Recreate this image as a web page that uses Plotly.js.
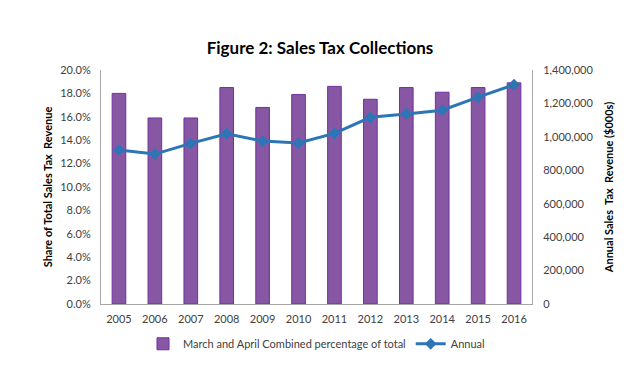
<!DOCTYPE html>
<html><head><meta charset="utf-8">
<script src="https://cdn.plot.ly/plotly-3.0.1.min.js"></script>
<style>html,body{margin:0;padding:0;background:#fff}#c{width:640px;height:383px}</style>
</head><body><div id="c"></div>
<script>
const years = ['2005','2006','2007','2008','2009','2010','2011','2012','2013','2014','2015','2016'];
const sharePct = [0.180,0.159,0.159,0.185,0.168,0.179,0.186,0.175,0.185,0.181,0.185,0.189];
const annual = [921000,897000,961000,1019000,975000,963000,1021000,1117000,1137000,1159000,1238000,1312000];
const leftTicks = [0,0.02,0.04,0.06,0.08,0.10,0.12,0.14,0.16,0.18,0.20];
const rightTicks = [0,200000,400000,600000,800000,1000000,1200000,1400000];

const fontFam = 'Lato, "Open Sans", sans-serif';
const data = [
  {type:'bar', x:years, y:sharePct, name:'March and April Combined percentage of total',
   marker:{color:'#8757A3', line:{color:'#7030A0', width:1}}, width:0.38, yaxis:'y'},
  {type:'scatter', mode:'lines+markers', x:years, y:annual, name:'Annual', yaxis:'y2',
   line:{color:'#2E75B6', width:3}, marker:{symbol:'diamond', size:9, color:'#2E75B6'}}
];
const layout = {
  width:640, height:383,
  margin:{l:101, r:108, t:70, b:79},
  paper_bgcolor:'#fff', plot_bgcolor:'#fff',
  font:{family:fontFam, size:11, color:'#404040'},
  title:{text:'<b>Figure 2: Sales Tax Collections</b>', x:0.5, xanchor:'center', y:0.875, yanchor:'middle',
         font:{family:fontFam, size:17, color:'#000'}},
  showlegend:true,
  legend:{orientation:'h', x:0.5, xanchor:'center', y:-0.17, yanchor:'middle',
          font:{family:fontFam, size:11, color:'#404040'}, traceorder:'normal'},
  xaxis:{type:'category', range:[-0.5, 11.5], showline:true, linecolor:'#A6A6A6', linewidth:1, ticks:'', showgrid:false,
         tickfont:{size:11, color:'#404040'}, mirror:false, automargin:false, ticklabelstandoff:5},
  yaxis:{range:[0,0.20], tickvals:leftTicks, tickformat:'.1%', showgrid:false, zeroline:false,
         showline:true, linecolor:'#A6A6A6', ticks:'', tickfont:{size:11, color:'#404040'}, automargin:false,
         ticklabelstandoff:7,
         title:{text:'<b>Share of Total Sales Tax  Revenue</b>', font:{size:11, color:'#000'}, standoff:5}},
  yaxis2:{range:[0,1400000], tickvals:rightTicks, tickformat:',d', overlaying:'y', side:'right',
          showgrid:false, zeroline:false, showline:true, linecolor:'#A6A6A6', ticks:'', automargin:false,
          ticklabelstandoff:8,
          tickfont:{size:11, color:'#404040'},
          title:{text:'<b>Annual Sales  Tax  Revenue ($000s)</b>', font:{size:11, color:'#000'}, standoff:12}}
};
Plotly.newPlot('c', data, layout, {displayModeBar:false, staticPlot:true});
</script></body></html>
